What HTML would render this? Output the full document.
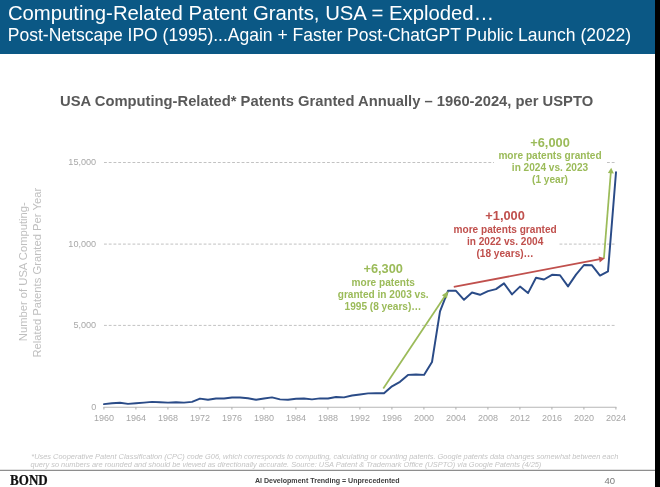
<!DOCTYPE html>
<html><head><meta charset="utf-8"><title>Computing-Related Patent Grants</title>
<style>
html,body{margin:0;padding:0;background:#fff;}
body{width:660px;height:487px;position:relative;overflow:hidden;font-family:"Liberation Sans",sans-serif;}
#hdr{position:absolute;left:0;top:0;width:655px;height:53.6px;background:#0b5885;}
#bar{position:absolute;left:654.5px;top:0;width:6px;height:487px;background:#000;}
svg{position:absolute;left:0;top:0;}
</style></head><body>
<div id="hdr"></div>
<svg width="660" height="487" viewBox="0 0 660 487" font-family="Liberation Sans, sans-serif">
<text x="7.9" y="19.5" font-size="20.32" fill="#fff">Computing-Related Patent Grants, USA = Exploded…</text>
<text x="7.8" y="41.1" font-size="17.53" fill="#fff">Post-Netscape IPO (1995)...Again + Faster Post-ChatGPT Public Launch (2022)</text>
<text x="326.6" y="106.3" text-anchor="middle" font-size="14.76" font-weight="bold" fill="#595959">USA Computing-Related* Patents Granted Annually – 1960-2024, per USPTO</text>
<g stroke="#c2c2c2" stroke-width="1" stroke-dasharray="2.85,1.895" fill="none">
<line x1="104" y1="162.5" x2="615" y2="162.5"/>
<line x1="104" y1="244.1" x2="615" y2="244.1"/>
<line x1="104" y1="325.4" x2="615" y2="325.4"/>
</g>
<rect x="450" y="210" width="109" height="40" fill="#fff"/>
<rect x="494" y="135" width="112.7" height="40" fill="#fff"/>
<g font-size="9.1" fill="#a8a8a8" text-anchor="end">
<text x="96.2" y="165.2">15,000</text>
<text x="96.2" y="246.8">10,000</text>
<text x="96.2" y="328.2">5,000</text>
<text x="96.2" y="410.3">0</text>
</g>
<g font-size="11.22" fill="#bfbfbf" text-anchor="middle">
<text transform="translate(27.4,271.7) rotate(-90)">Number of USA Computing-</text>
<text transform="translate(40.8,272.7) rotate(-90)">Related Patents Granted Per Year</text>
</g>
<g stroke="#b6b6b6" stroke-width="1.15" fill="none">
<line x1="103.5" y1="407.2" x2="616.4" y2="407.2"/>
<line x1="103.9" y1="407" x2="103.9" y2="409.4"/><line x1="135.9" y1="407" x2="135.9" y2="409.4"/><line x1="167.9" y1="407" x2="167.9" y2="409.4"/><line x1="199.9" y1="407" x2="199.9" y2="409.4"/><line x1="231.9" y1="407" x2="231.9" y2="409.4"/><line x1="263.9" y1="407" x2="263.9" y2="409.4"/><line x1="295.9" y1="407" x2="295.9" y2="409.4"/><line x1="327.9" y1="407" x2="327.9" y2="409.4"/><line x1="359.9" y1="407" x2="359.9" y2="409.4"/><line x1="391.9" y1="407" x2="391.9" y2="409.4"/><line x1="423.9" y1="407" x2="423.9" y2="409.4"/><line x1="455.9" y1="407" x2="455.9" y2="409.4"/><line x1="487.9" y1="407" x2="487.9" y2="409.4"/><line x1="519.9" y1="407" x2="519.9" y2="409.4"/><line x1="551.9" y1="407" x2="551.9" y2="409.4"/><line x1="583.9" y1="407" x2="583.9" y2="409.4"/><line x1="615.9" y1="407" x2="615.9" y2="409.4"/>
</g>
<g font-size="9" fill="#a6a6a6"><text x="103.9" y="421.4" text-anchor="middle">1960</text><text x="135.9" y="421.4" text-anchor="middle">1964</text><text x="167.9" y="421.4" text-anchor="middle">1968</text><text x="199.9" y="421.4" text-anchor="middle">1972</text><text x="231.9" y="421.4" text-anchor="middle">1976</text><text x="263.9" y="421.4" text-anchor="middle">1980</text><text x="295.9" y="421.4" text-anchor="middle">1984</text><text x="327.9" y="421.4" text-anchor="middle">1988</text><text x="359.9" y="421.4" text-anchor="middle">1992</text><text x="391.9" y="421.4" text-anchor="middle">1996</text><text x="423.9" y="421.4" text-anchor="middle">2000</text><text x="455.9" y="421.4" text-anchor="middle">2004</text><text x="487.9" y="421.4" text-anchor="middle">2008</text><text x="519.9" y="421.4" text-anchor="middle">2012</text><text x="551.9" y="421.4" text-anchor="middle">2016</text><text x="583.9" y="421.4" text-anchor="middle">2020</text><text x="615.9" y="421.4" text-anchor="middle">2024</text></g>
<polyline points="104.0,404.1 112.0,403.2 120.0,402.8 128.0,403.9 136.0,403.2 144.0,402.6 152.0,401.9 160.0,402.3 168.0,402.6 176.0,402.3 184.0,402.6 192.0,401.9 200.0,398.6 208.0,399.8 216.0,398.5 224.0,398.5 232.0,397.5 240.0,397.5 248.0,398.3 256.0,399.7 264.0,398.5 272.0,397.4 280.0,399.4 288.0,399.7 296.0,398.8 304.0,398.5 312.0,399.4 320.0,398.4 328.0,398.5 336.0,397.0 344.0,397.4 352.0,395.5 360.0,394.5 368.0,393.4 376.0,393.2 384.0,393.2 392.0,386.3 400.0,381.8 408.0,374.9 416.0,374.5 424.0,374.9 432.0,362.0 440.0,311.3 448.0,290.8 456.0,290.8 464.0,299.8 472.0,292.5 480.0,294.8 488.0,291.1 496.0,289.1 504.0,283.4 512.0,294.4 520.0,286.6 528.0,293.1 536.0,277.8 544.0,279.5 552.0,274.8 560.0,275.2 568.0,286.4 576.0,274.6 584.0,265.0 592.0,265.3 600.0,275.6 608.0,271.4 616.0,172.3" fill="none" stroke="#2a4b87" stroke-width="1.95" stroke-linejoin="round" stroke-linecap="round"/>
<!-- arrows -->
<g stroke="#9bbb59" stroke-width="1.75" fill="#9bbb59">
<line x1="383.3" y1="388.4" x2="446" y2="294.4"/>
<polygon points="448.3,291 446.9,298.6 441.9,295.3" stroke="none"/>
<line x1="603.9" y1="258.5" x2="610.8" y2="172.5"/>
<polygon points="611.2,167.8 613.9,173.6 607.9,173.1" stroke="none"/>
</g>
<g stroke="#c0504d" stroke-width="1.8" fill="#c0504d">
<line x1="453.8" y1="286.9" x2="600" y2="259.2"/>
<polygon points="604.9,258.3 599.7,262.5 598.6,256.5" stroke="none"/>
</g>
<g font-weight="bold" text-anchor="middle" fill="#9bbb59">
<text x="383.2" y="272.8" font-size="12.8">+6,300</text>
<text x="383.2" y="285.5" font-size="10.1">more patents</text>
<text x="383.2" y="297.8" font-size="10.1">granted in 2003 vs.</text>
<text x="383" y="310" font-size="10.1">1995 (8 years)…</text>
<text x="550" y="146.6" font-size="12.8">+6,000</text>
<text x="550" y="159.2" font-size="10.1">more patents granted</text>
<text x="550" y="171.2" font-size="10.1">in 2024 vs. 2023</text>
<text x="550" y="183.1" font-size="10.1">(1 year)</text>
</g>
<g font-weight="bold" text-anchor="middle" fill="#c0504d">
<text x="505.1" y="219.5" font-size="12.8">+1,000</text>
<text x="505.1" y="232.8" font-size="10.1">more patents granted</text>
<text x="505.1" y="244.8" font-size="10.1">in 2022 vs. 2004</text>
<text x="505.1" y="256.9" font-size="10.1">(18 years)…</text>
</g>
<g font-size="7.42" font-style="italic" fill="#c4c4c4">
<text x="31.3" y="458.5">*Uses Cooperative Patent Classification (CPC) code G06, which corresponds to computing, calculating or counting patents. Google patents data changes somewhat between each</text>
<text x="30.6" y="466.5">query so numbers are rounded and should be viewed as directionally accurate. Source: USA Patent &amp; Trademark Office (USPTO) via Google Patents (4/25)</text>
</g>
<line x1="0" y1="470.3" x2="655" y2="470.3" stroke="#727272" stroke-width="1"/>
<text transform="translate(10.1,484.7) scale(0.93,1)" font-family="Liberation Serif, serif" font-weight="bold" font-size="14" fill="#111" stroke="#111" stroke-width="0.25">BOND</text>
<text x="327.2" y="483" text-anchor="middle" font-weight="bold" font-size="7.07" fill="#404040">AI Development Trending = Unprecedented</text>
<text x="609.7" y="483.7" text-anchor="middle" font-size="9.5" fill="#7a7a7a">40</text>
</svg>
<div id="bar"></div>
</body></html>
